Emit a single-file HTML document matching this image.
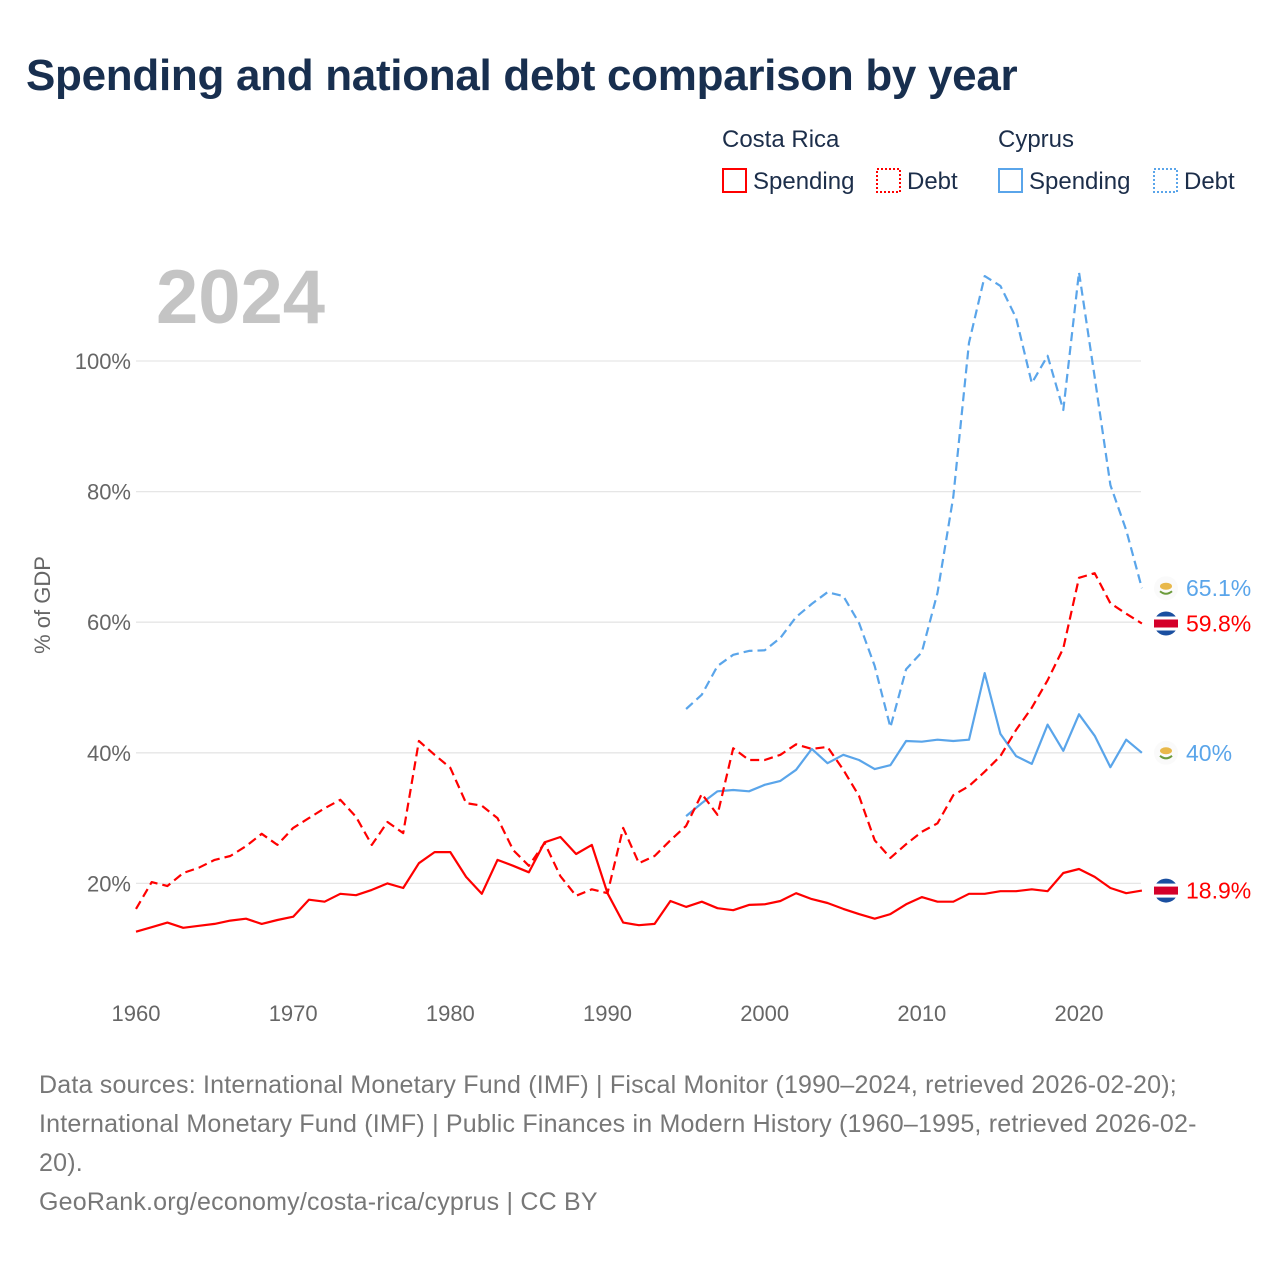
<!DOCTYPE html>
<html><head><meta charset="utf-8"><style>
body{margin:0;background:#fff;font-family:"Liberation Sans",sans-serif;}
#wrap{position:relative;width:1280px;height:1280px;overflow:hidden;}
.t{position:absolute;white-space:nowrap;}
</style></head><body>
<div id="wrap">
<div class="t" style="left:26px;top:51px;font-size:44px;font-weight:bold;color:#182f4f;letter-spacing:-0.3px">Spending and national debt comparison by year</div>
<svg id="chart" width="1280" height="1280" style="position:absolute;left:0;top:0"></svg>
<div class="t" style="left:39px;top:1066px;font-size:25px;line-height:39px;color:#777;letter-spacing:0.2px">Data sources: International Monetary Fund (IMF) | Fiscal Monitor (1990–2024, retrieved 2026-02-20);<br>International Monetary Fund (IMF) | Public Finances in Modern History (1960–1995, retrieved 2026-02-<br>20).<br>GeoRank.org/economy/costa-rica/cyprus | CC BY</div>
</div>
<script>
const crSpendYears0 = 1960;
const crSpending = [12.6,13.3,14,13.2,13.5,13.8,14.3,14.6,13.8,14.4,14.9,17.5,17.2,18.4,18.2,19,20,19.3,23.1,24.8,24.8,21,18.4,23.6,22.7,21.7,26.3,27.1,24.5,25.9,18.5,14,13.6,13.8,17.3,16.4,17.2,16.2,15.9,16.7,16.8,17.3,18.5,17.6,17,16.1,15.3,14.6,15.3,16.8,17.9,17.2,17.2,18.4,18.4,18.8,18.8,19.1,18.8,21.6,22.2,21,19.3,18.5,18.9];
const crDebt = [16.1,20.2,19.6,21.6,22.4,23.6,24.2,25.7,27.6,25.9,28.5,30,31.5,32.8,30.2,25.9,29.4,27.7,41.8,39.7,37.7,32.3,31.9,30,25.1,22.7,26.2,21.1,18.1,19.1,18.5,28.5,23.1,24.2,26.6,28.8,33.7,30.5,40.7,38.9,38.9,39.7,41.3,40.6,40.9,37.4,33.4,26.6,23.9,26,27.9,29.2,33.5,34.9,37.1,39.5,43.5,46.9,51.1,56,66.8,67.5,62.9,61.3,59.8];
const cyStartYear = 1995;
const cySpending = [30.3,32.3,34.1,34.3,34.1,35.1,35.7,37.4,40.6,38.4,39.7,38.9,37.5,38.1,41.8,41.7,42,41.8,42,52.2,42.9,39.5,38.3,44.3,40.3,45.9,42.6,37.8,42,40];
const cyDebt = [46.7,48.9,53.3,55,55.6,55.7,57.6,60.8,62.8,64.6,64,59.9,53.3,43.9,52.8,55.4,64.5,79.2,102.8,113,111.5,106.6,96.6,100.8,92.5,113.6,97.5,81,74.1,65.2];
const yTicks = [20,40,60,80,100];
const xTicks = [1960,1970,1980,1990,2000,2010,2020];
const endLabels = ["65.1%","59.8%","40%","18.9%"];

const svg = document.getElementById('chart');
const NS = 'http://www.w3.org/2000/svg';
const X = yr => 136 + (yr - 1960) * (943/60);
const Y = v => 1014 - v * 6.53;
function mk(tag, attrs){const e=document.createElementNS(NS,tag);for(const k in attrs)e.setAttribute(k,attrs[k]);svg.appendChild(e);return e;}

yTicks.forEach(t=>{
  const g = mk('line',{x1:136,x2:1141,y1:Y(t),y2:Y(t),stroke:'#e6e6e6','stroke-width':1.3});
  
  
  const tx = mk('text',{x:131,y:Y(t)+8,'text-anchor':'end','font-size':22,fill:'#666','font-family':'Liberation Sans, sans-serif'});
  tx.textContent = t+'%';
  
  
});
xTicks.forEach(t=>{
  const tx = mk('text',{x:X(t),y:1021,'text-anchor':'middle','font-size':22,fill:'#666','font-family':'Liberation Sans, sans-serif'});
  tx.textContent = t;
  
  
});
const yt = mk('text',{x:0,y:0,transform:'translate(50,605) rotate(-90)','text-anchor':'middle','font-size':22,fill:'#666','font-family':'Liberation Sans, sans-serif'});
yt.textContent='% of GDP';


const yr = mk('text',{x:156,y:323,'font-size':76,'font-weight':'bold',fill:'#c4c4c4','font-family':'Liberation Sans, sans-serif'});
yr.textContent='2024';



function line(arr,start,color,dash,name){
  const d = arr.map((v,i)=>(i?'L':'M')+X(start+i).toFixed(1)+','+Y(v).toFixed(1)).join(' ');
  const p = mk('path',{d:d,fill:'none',stroke:color,'stroke-width':2.2,'stroke-dasharray':dash,'stroke-linejoin':'round'});
  
  
}
line(cyDebt,cyStartYear,'#5aa5ea','9 5','cyprus-debt-line');
line(cySpending,cyStartYear,'#5aa5ea','none','cyprus-spending-line');
line(crDebt,crSpendYears0,'#ff0000','9 5','costa-rica-debt-line');
line(crSpending,crSpendYears0,'#ff0000','none','costa-rica-spending-line');

const ends = [[cyDebt[cyDebt.length-1],'#5aa5ea','cy'],[crDebt[crDebt.length-1],'#ff0000','cr'],[cySpending[cySpending.length-1],'#5aa5ea','cy'],[crSpending[crSpending.length-1],'#ff0000','cr']];
ends.forEach((e,i)=>{
  const y=Y(e[0]);
  const c = mk('circle',{cx:1166,cy:y,r:12,fill:e[2]==='cr'?'#1a4fa0':'#fafafa'});
  
  
  if(e[2]==='cr'){
    const r1 = mk('rect',{x:1154,y:y-7,width:24,height:14,fill:'#fff'});
    
    
    const r2 = mk('rect',{x:1154,y:y-4,width:24,height:8,fill:'#d4002a'});
    
    
  } else {
    const s = mk('ellipse',{cx:1166,cy:y-2,rx:6,ry:3.5,fill:'#e8b84a'});
    
    
    const s2 = mk('path',{d:`M1160 ${y+3} Q1166 ${y+8} 1172 ${y+3}`,stroke:'#6a9a3a','stroke-width':2,fill:'none'});
    
    
  }
  const t = mk('text',{x:1186,y:y+8,'font-size':23,fill:e[1],'font-family':'Liberation Sans, sans-serif'});
  t.textContent = endLabels[i];
  
  
});

const leg = [[722,'Costa Rica'],[998,'Cyprus']];
leg.forEach(l=>{
  const t=mk('text',{x:l[0],y:147,'font-size':24,fill:'#1c2e4a','font-family':'Liberation Sans, sans-serif'});
  t.textContent=l[1];
  
  
});
const items=[[722,'#ff0000','none','Spending'],[876,'#ff0000','2 2','Debt'],[998,'#5aa5ea','none','Spending'],[1153,'#5aa5ea','2 2','Debt']];
items.forEach(it=>{
  const r=mk('rect',{x:it[0]+1,y:169,width:23,height:23,fill:'none',stroke:it[1],'stroke-width':2,'stroke-dasharray':it[2]});
  
  
  const t=mk('text',{x:it[0]+31,y:189,'font-size':24,fill:'#1c2e4a','font-family':'Liberation Sans, sans-serif'});
  t.textContent=it[3];
  
  
});
</script>
</body></html>
